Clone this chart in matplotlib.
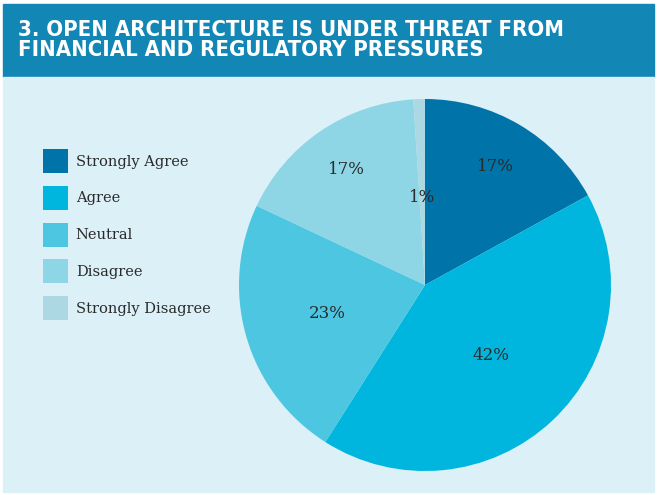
import matplotlib.pyplot as plt
import matplotlib.patches as patches
import numpy as np

categories = ['Strongly Agree', 'Agree', 'Neutral', 'Disagree', 'Strongly Disagree']
shares = [17, 42, 23, 17, 1]
colors = ['#0073A8', '#00B6DF', '#4CC6E1', '#8ED6E5', '#ABD8E2']
# how far out along the radius each percentage sits
label_radius = [0.74, 0.52, 0.55, 0.75, 0.47]

title = '3. OPEN ARCHITECTURE IS UNDER THREAT FROM\nFINANCIAL AND REGULATORY PRESSURES'

W, H = 657, 495
fig = plt.figure(figsize=(W / 100, H / 100), dpi=100, facecolor='white')

# header band and light panel
fig.patches.append(patches.Rectangle((3 / W, 1 - 77 / H), 651 / W, 73 / H,
                                     transform=fig.transFigure, color='#1286B5', zorder=-2))
fig.patches.append(patches.Rectangle((3 / W, 3 / H), 651 / W, (492 - 77) / H,
                                     transform=fig.transFigure, color='#DCF0F8', zorder=-2))

fig.text(18 / W, 1 - 20 / H, title, color='white', fontsize=15.8, fontweight='bold',
         family='DejaVu Sans', fontstretch='condensed', va='top', ha='left',
         linespacing=1.0)

# pie centred at (425, 285) px with radius 186 px
cx, cy, r = 425, 285, 186
ax = fig.add_axes([(cx - r) / W, (H - cy - r) / H, 2 * r / W, 2 * r / H])
ax.set_zorder(1)
wedges, _ = ax.pie(shares, colors=colors, startangle=90, counterclock=False,
                   wedgeprops=dict(linewidth=0))
ax.set_xlim(-1, 1)
ax.set_ylim(-1, 1)
ax.axis('off')

for w, s, rr in zip(wedges, shares, label_radius):
    mid = np.deg2rad((w.theta1 + w.theta2) / 2)
    ax.text(rr * np.cos(mid), rr * np.sin(mid), f'{s}%', ha='center', va='center',
            fontsize=12, color='#2a2a2a', family='DejaVu Serif')

fig.legend(wedges, categories, loc='upper left', bbox_to_anchor=(43 / W, 1 - 149 / H),
           frameon=False, handlelength=1.7, handleheight=2.15, labelspacing=0.88,
           handletextpad=0.55, borderaxespad=0, borderpad=0,
           prop=dict(family='DejaVu Serif', size=10.5), labelcolor='#2a2a2a')

fig.savefig('out.png', dpi=100, facecolor='white')
